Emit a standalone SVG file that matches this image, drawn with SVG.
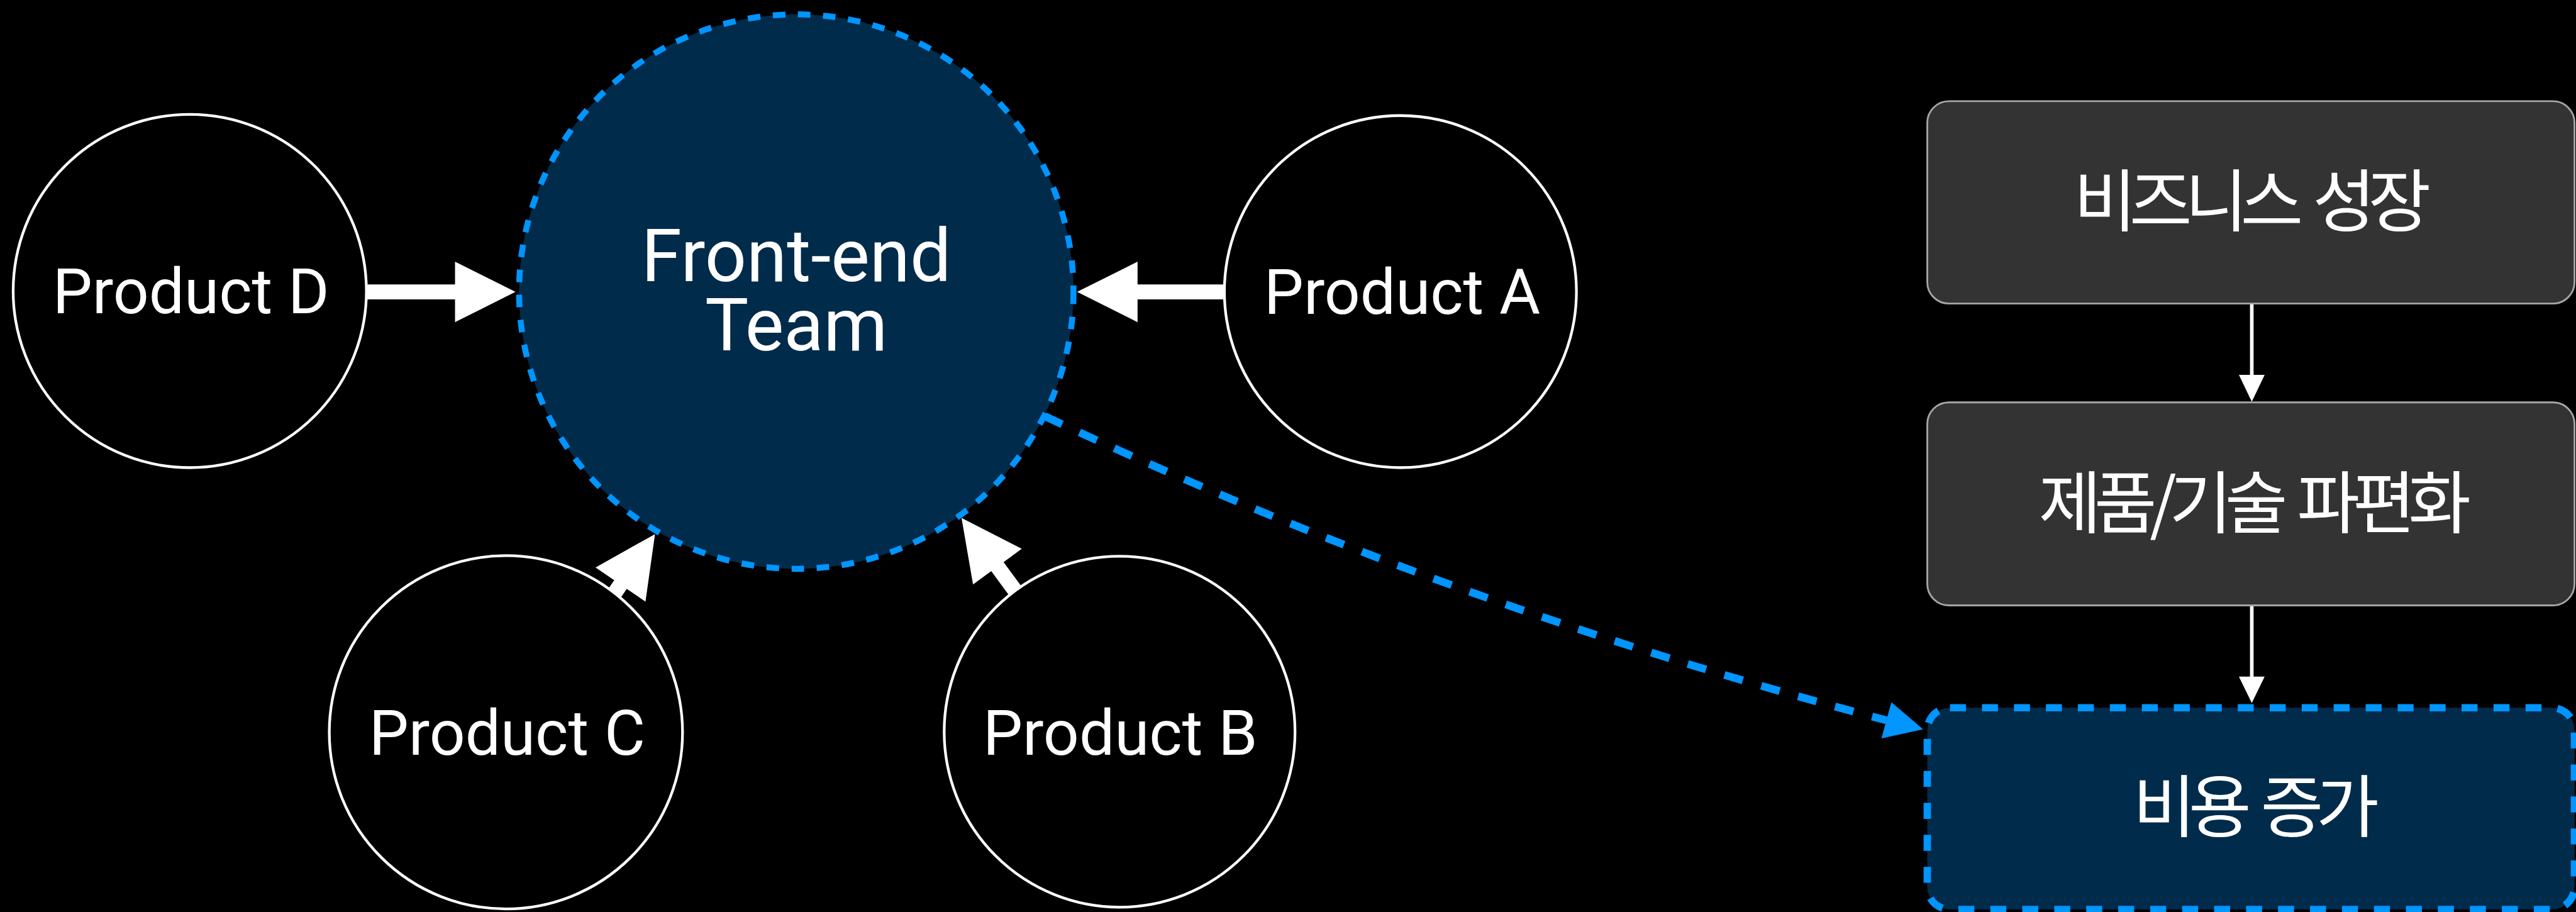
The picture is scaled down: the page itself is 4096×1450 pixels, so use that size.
<svg xmlns="http://www.w3.org/2000/svg" width="4096" height="1450" viewBox="0 0 4096 1450">
  <style>
    .bg { fill: #000000; }
    .prod circle { fill: #000000; stroke: #ffffff; stroke-width: 4.5; }
    .team circle { fill: #002B4B; stroke: #0095FF; stroke-width: 10; stroke-dasharray: 21 21; }
    .lbl { font-family: Roboto, "Liberation Sans", sans-serif; fill: #ffffff; text-anchor: middle; }
    .p { font-size: 105px; }
    .t { font-size: 122px; }
    .box rect { fill: #333333; stroke: #A6A6A6; stroke-width: 3; }
    .box.hl rect { fill: #002B4B; stroke: #0095FF; stroke-width: 12.3; stroke-dasharray: 26.7 26.7; }
    .kr { font-family: "Noto Sans CJK KR", "Noto Sans CJK SC", sans-serif; font-size: 114px; letter-spacing: -12px; word-spacing: 14px; fill: #ffffff; text-anchor: middle; }
    .block { fill: #ffffff; }
    .flow { stroke: #ffffff; stroke-width: 6; fill: none; }
    .flowhead { fill: #ffffff; }
    .cost { stroke: #0095FF; stroke-width: 13; stroke-dasharray: 32 32; fill: none; }
    .costhead { fill: #0095FF; }
  </style>

  <rect class="bg" x="0" y="0" width="4096" height="1450"/>

  <g transform="scale(0.952)">
    <!-- connectors -->
    <g id="connectors">
      <!-- Product D -> Front-end Team -->
      <polygon class="block" points="605,475 760,475 760,437 861,487.5 760,538 760,500 605,500"/>
      <!-- Product A -> Front-end Team -->
      <polygon class="block" points="2055,475 1900,475 1900,437 1799,487.5 1900,538 1900,500 2055,500"/>
      <!-- Product C -> Front-end Team -->
      <polygon class="block" points="994.7,947.7 1094,892 1078.1,1004.7 1046.9,983.4 1013,1032.9 992,1018.5 1025.9,969"/>
      <!-- Product B -> Front-end Team -->
      <polygon class="block" points="1706.6,916.4 1606,865 1625.2,976.2 1655.6,953.9 1703,1018.3 1723.6,1003.1 1676.2,938.7"/>

      <!-- 비즈니스 성장 -> 제품/기술 파편화 -->
      <line class="flow" x1="3761" y1="507" x2="3761" y2="628"/>
      <polygon class="flowhead" points="3739.5,626 3782.5,626 3761,671"/>
      <!-- 제품/기술 파편화 -> 비용 증가 -->
      <line class="flow" x1="3761" y1="1011" x2="3761" y2="1132"/>
      <polygon class="flowhead" points="3739.5,1130 3782.5,1130 3761,1174"/>

      <!-- Front-end Team -> 비용 증가 -->
      <path class="cost" d="M1745,695 Q2411,1009 3151,1203"/>
      <polygon class="costhead" points="3159,1172.7 3212,1218 3142.5,1233.3"/>
    </g>

    <!-- nodes -->
    <g id="team" class="team">
      <circle cx="1330" cy="487" r="463"/>
      <text class="lbl t"><tspan x="1330" y="470">Front-end</tspan><tspan x="1330" y="585">Team</tspan></text>
    </g>

    <g id="product-d" class="prod">
      <circle cx="317" cy="486" r="295"/>
      <text class="lbl p" x="319" y="523">Product D</text>
    </g>

    <g id="product-a" class="prod">
      <circle cx="2339" cy="487" r="294"/>
      <text class="lbl p" x="2342" y="524">Product A</text>
    </g>

    <g id="product-c" class="prod">
      <circle cx="845" cy="1223" r="295"/>
      <text class="lbl p" x="847" y="1260">Product C</text>
    </g>

    <g id="product-b" class="prod">
      <circle cx="1870" cy="1222" r="293"/>
      <text class="lbl p" x="1871" y="1260">Product B</text>
    </g>

    <g id="business-growth" class="box">
      <rect x="3219" y="169" width="1081" height="338" rx="36" ry="36"/>
      <text class="kr" x="3756" y="377">비즈니스 성장</text>
    </g>

    <g id="fragmentation" class="box">
      <rect x="3219" y="672" width="1081" height="339" rx="36" ry="36"/>
      <text class="kr" x="3760" y="881">제품/기술 파편화</text>
    </g>

    <g id="cost-increase" class="box hl">
      <rect x="3219" y="1182" width="1081" height="337" rx="38" ry="38"/>
      <text class="kr" x="3762" y="1389">비용 증가</text>
    </g>
  </g>
</svg>
